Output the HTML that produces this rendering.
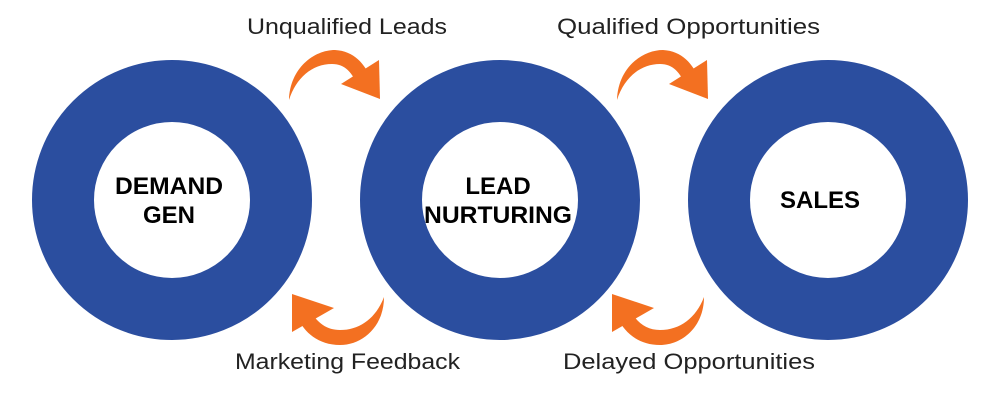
<!DOCTYPE html>
<html><head><meta charset="utf-8"><style>body{margin:0;background:#fff}svg{display:block}</style></head><body>
<svg width="1000" height="400" viewBox="0 0 1000 400" xmlns="http://www.w3.org/2000/svg">
<g fill="none" stroke="#2b4e9f" stroke-width="62">
<circle cx="172" cy="200" r="109"/>
<circle cx="500" cy="200" r="109"/>
<circle cx="828" cy="200" r="109"/>
</g>
<g font-family="'Liberation Sans',sans-serif" font-weight="bold" font-size="24" text-anchor="middle" fill="#000">
<text x="169" y="194" textLength="108" lengthAdjust="spacingAndGlyphs">DEMAND</text><text x="169" y="223">GEN</text>
<text x="498" y="194">LEAD</text><text x="498" y="223" textLength="148" lengthAdjust="spacingAndGlyphs">NURTURING</text>
<text x="820" y="208">SALES</text>
</g>
<g font-family="'Liberation Sans',sans-serif" font-size="22" fill="#222">
<text x="247" y="34" textLength="200" lengthAdjust="spacingAndGlyphs">Unqualified Leads</text>
<text x="557" y="34" textLength="263" lengthAdjust="spacingAndGlyphs">Qualified Opportunities</text>
<text x="235" y="369" textLength="225" lengthAdjust="spacingAndGlyphs">Marketing Feedback</text>
<text x="563" y="369" textLength="252" lengthAdjust="spacingAndGlyphs">Delayed Opportunities</text>
</g>
<defs>
<g id="top">
<path d="M289,100 C290,68 314,50 335,50 C354,51 365,64 371,79 L359,88 C352,72 345,64 332,64 C312,64 296,78 289,100 Z" fill="#f37021"/>
<polygon points="341,84 379,60 380,99" fill="#f37021"/>
</g>
<g id="bot">
<path d="M384,297 C384,327 362,345 340,345 C318,345 304,332 298,318 L310,310 C317,323 327,330 340,330 C360,330 376,318 384,297 Z" fill="#f37021"/>
<polygon points="292,294 334,308 292,332" fill="#f37021"/>
</g>
</defs>
<use href="#top"/>
<use href="#top" transform="translate(328,0)"/>
<use href="#bot"/>
<use href="#bot" transform="translate(320,0)"/>
</svg>
</body></html>
